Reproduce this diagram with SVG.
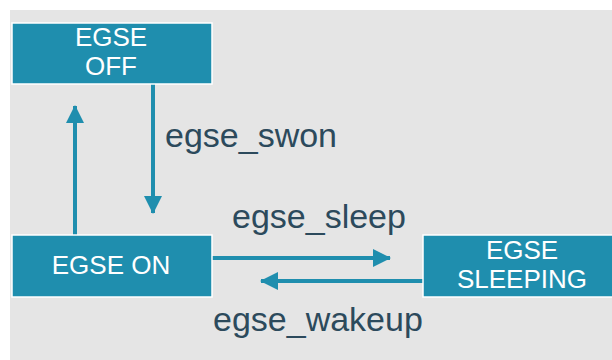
<svg xmlns="http://www.w3.org/2000/svg" width="612" height="360" viewBox="0 0 612 360">
<style>
.box{fill:#1f8eae;stroke:#ffffff;stroke-width:1.5}
.bt{font-family:"Liberation Sans",Arial,sans-serif;font-size:26px;fill:#ffffff;text-anchor:middle}
.lbl{font-family:"Liberation Sans",Arial,sans-serif;font-size:34px;fill:#2c4a5c}
.conn{stroke:#1f8eae;stroke-width:4;fill:none;marker-end:url(#ah)}
</style>
<defs>
<marker id="ah" markerUnits="userSpaceOnUse" markerWidth="18" markerHeight="18" viewBox="0 0 18 18" refX="17" refY="9" orient="auto">
<path d="M0,0 L18,9 L0,18 Z" fill="#1f8eae"/>
</marker>
</defs>
<rect x="0" y="0" width="612" height="360" fill="#ffffff"/>
<rect x="10" y="10" width="602" height="350" fill="#e5e5e5"/>
<g id="connectors">
<line class="conn" x1="153" y1="84" x2="153" y2="213"/>
<line class="conn" x1="75" y1="235" x2="75" y2="106"/>
<line class="conn" x1="212" y1="258" x2="390" y2="258"/>
<line class="conn" x1="423" y1="281" x2="261" y2="281"/>
<text class="lbl" x="165" y="147">egse_swon</text>
<text class="lbl" x="232" y="228">egse_sleep</text>
<text class="lbl" x="213" y="331">egse_wakeup</text>
</g>
<g id="egse_off">
<rect class="box" x="12" y="23" width="200" height="61"/>
<text class="bt" x="111" y="46">EGSE</text>
<text class="bt" x="111" y="75">OFF</text>
</g>
<g id="egse_on">
<rect class="box" x="12" y="235" width="200" height="62"/>
<text class="bt" x="111" y="274">EGSE ON</text>
</g>
<g id="egse_sleeping">
<rect class="box" x="423" y="235" width="200" height="62"/>
<text class="bt" x="522" y="259">EGSE</text>
<text class="bt" x="522" y="288">SLEEPING</text>
</g>
</svg>
